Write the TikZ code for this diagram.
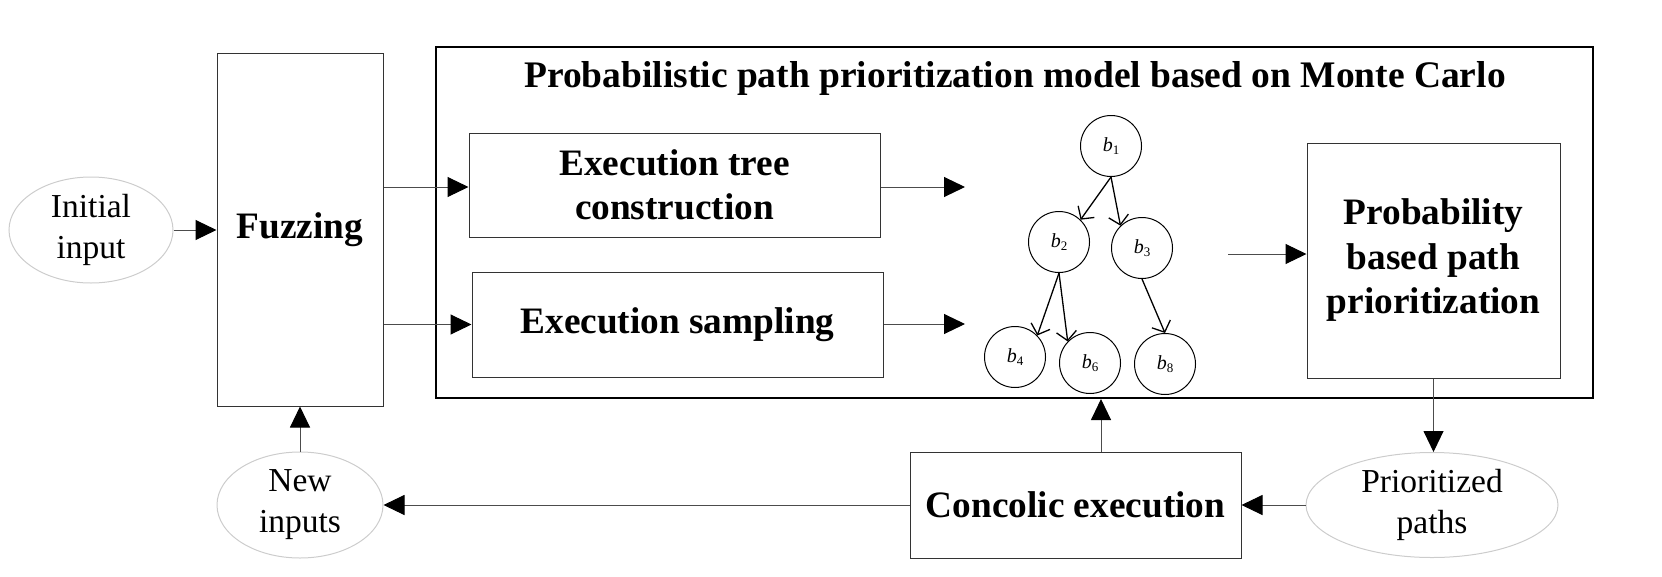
\documentclass[tikz,border=0pt]{standalone}
\usepackage{fontspec}
\setmainfont{Liberation Serif}
\usetikzlibrary{arrows.meta,shapes.geometric}
\newcommand{\bsub}[1]{\textit{b}\raisebox{-3pt}{\fontsize{13}{13}\selectfont #1}}
\tikzset{
  box/.style={draw=black!80, line width=1pt, inner sep=0pt, align=center,
    font=\fontsize{37.3}{44.5}\selectfont\bfseries},
  oval/.style={draw=black!20, line width=1pt, ellipse, inner sep=0pt, align=center,
    font=\fontsize{33.5}{41}\selectfont},
  bnode/.style={draw=black, line width=1pt, circle, minimum size=61pt, inner sep=0pt,
    font=\fontsize{20}{20}\selectfont},
  arr/.style={draw=black!70, line width=1pt, -{Triangle[length=21pt,width=20pt,fill=black,color=black]}},
  tarr/.style={draw=black, line width=1.3pt, -{Straight Barb[length=9pt,width=20pt,line width=1.3pt]}},
}
\begin{document}
\begin{tikzpicture}[x=1pt,y=-1pt]
\useasboundingbox (0,0) rectangle (1662,576);
% outer box
\node[draw=black, line width=2pt, minimum width=1157pt, minimum height=351pt, inner sep=0pt] (outer) at (1014.5,222.5) {};
\node[font=\fontsize{37.5}{44}\selectfont\bfseries, inner sep=0pt] (title) at (1015,78) {Probabilistic path prioritization model based on Monte Carlo};
% boxes
\node[box, minimum width=166pt, minimum height=353pt] (fuzz) at (300,229.5) {Fuzzing};
\node[box, minimum width=411pt, minimum height=104pt] (tree) at (674.5,185) {Execution tree\\construction};
\node[box, minimum width=411pt, minimum height=105pt] (samp) at (677.5,324.5) {Execution sampling};
\node[box, minimum width=253pt, minimum height=235pt] (prob) at (1433.5,260.5) {Probability\\based path\\prioritization};
\node[box, minimum width=331pt, minimum height=106pt] (conc) at (1075.5,505) {Concolic execution};
% ovals
\node[oval, minimum width=164pt, minimum height=106pt] (init) at (91,230) {Initial\\input};
\node[oval, minimum width=166pt, minimum height=106pt] (newin) at (300,505) {New\\inputs};
\node[oval, minimum width=252pt, minimum height=105pt] (prior) at (1432,505) {Prioritized\\paths};
% tree
\node[bnode] (b1) at (1111,146) {\bsub{1}};
\node[bnode] (b2) at (1059,242) {\bsub{2}};
\node[bnode] (b3) at (1142,248) {\bsub{3}};
\node[bnode] (b4) at (1015,357) {\bsub{4}};
\node[bnode] (b6) at (1090,363) {\bsub{6}};
\node[bnode] (b8) at (1165,364) {\bsub{8}};
\draw[tarr] (b1.south) -- (b2.46);
\draw[tarr] (b1.south) -- (b3.134);
\draw[tarr] (b2.south) -- (b4.44);
\draw[tarr] (b2.south) -- (b6.136);
\draw[tarr] (b3.south) -- (b8.north);
% free ends
\coordinate (t1) at (965,187);
\coordinate (t2) at (965,324);
\coordinate (t3) at (1228,254);
\coordinate (cu) at (1101,452);
% connectors
\draw[arr] (init.east) -- (fuzz.west |- init.east);
\draw[arr] (fuzz.east |- 0,187) -- (tree.west |- 0,187);
\draw[arr] (fuzz.east |- samp.west) -- (samp.west);
\draw[arr] (tree.east |- t1) -- (t1);
\draw[arr] (samp.east |- t2) -- (t2);
\draw[arr] (t3) -- (prob.west |- t3);
\draw[arr] (prob.south) -- (prob.south |- prior.north);
\draw[arr] (prior.west) -- (conc.east);
\draw[arr] (conc.west) -- (newin.east);
\draw[arr] (cu) -- (cu |- outer.south);
\draw[arr] (newin.north) -- (fuzz.south);
\end{tikzpicture}
\end{document}
